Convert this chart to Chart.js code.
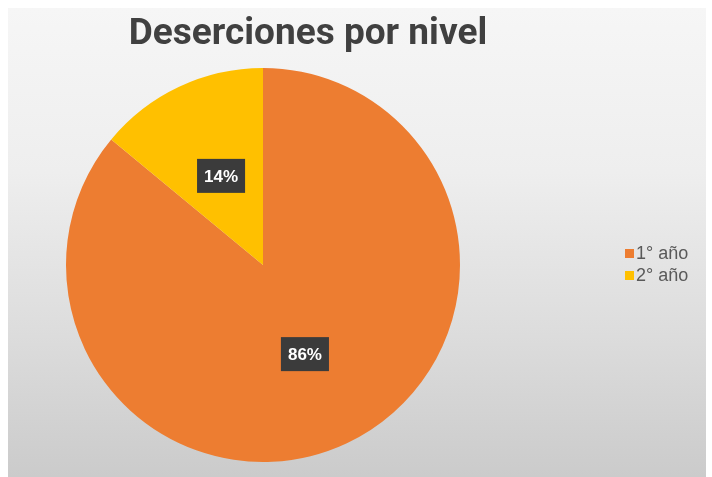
<!DOCTYPE html>
<html>
<head>
<meta charset="utf-8">
<script src="https://cdn.jsdelivr.net/npm/chart.js@4"></script>
<style>
  html, body { margin: 0; padding: 0; background: #fff; }
  #wrap {
    position: absolute; left: 8px; top: 8px; width: 698px; height: 469px;
    background: linear-gradient(to bottom, #f6f6f6 0%, #eeeeee 35%, #dcdcdc 70%, #cbcbcb 100%);
  }
</style>
</head>
<body>
<div id="wrap"><canvas id="chart"></canvas></div>
<script>
const chartTitle = "Deserciones por nivel";
const levels = ["1° año", "2° año"];
const dropouts = [86, 14];
const sliceColors = ["#ED7D31", "#FFC000"];

// title, legend and boxed % labels drawn by hand so they sit where the original has them
const extras = {
  id: "extras",
  afterDraw(chart) {
    const ctx = chart.ctx;
    ctx.save();
    ctx.fillStyle = "#404040";
    ctx.font = "bold 37px Roboto";
    ctx.textAlign = "center";
    ctx.textBaseline = "alphabetic";
    ctx.fillText(chartTitle, 300, 36);

    // legend
    ctx.font = "18px 'Liberation Sans'";
    ctx.textAlign = "left";
    ctx.textBaseline = "middle";
    chart.data.labels.forEach((lab, i) => {
      const y = 246 + i * 22;
      ctx.fillStyle = sliceColors[i];
      ctx.fillRect(617, y - 5, 9, 9);
      ctx.fillStyle = "#595959";
      ctx.fillText(lab, 628, y);
    });

    // percentage labels
    const meta = chart.getDatasetMeta(0);
    const total = dropouts.reduce((a, b) => a + b, 0);
    ctx.font = "bold 17px 'Liberation Sans'";
    ctx.textAlign = "center";
    meta.data.forEach((arc, i) => {
      const p = arc.tooltipPosition();
      const txt = Math.round(dropouts[i] / total * 100) + "%";
      const w = ctx.measureText(txt).width + 14;
      ctx.fillStyle = "#3b3b3b";
      ctx.fillRect(p.x - w / 2, p.y - 17, w, 34);
      ctx.fillStyle = "#ffffff";
      ctx.fillText(txt, p.x, p.y + 1);
    });
    ctx.restore();
  }
};

new Chart(document.getElementById("chart"), {
  type: "pie",
  plugins: [extras],
  data: {
    labels: levels,
    datasets: [{
      data: dropouts,
      backgroundColor: sliceColors,
      borderWidth: 0,
    }],
  },
  options: {
    responsive: true,
    maintainAspectRatio: false,
    animation: false,
    layout: { padding: { left: 58, top: 60, right: 246, bottom: 15 } },
    plugins: {
      legend: { display: false },
      title: { display: false },
      tooltip: { enabled: false },
    },
  },
});
</script>
</body>
</html>
